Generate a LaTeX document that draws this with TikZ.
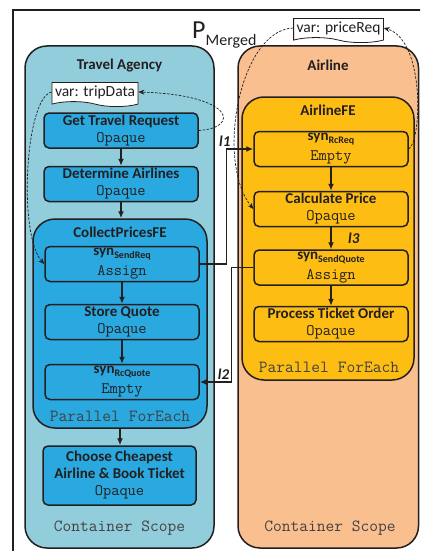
\documentclass[tikz,border=0pt]{standalone}
\usepackage{fontspec}
\setmainfont{Carlito}
\usetikzlibrary{arrows.meta,shapes.symbols}

\definecolor{agencyblue}{HTML}{92CDDC}
\definecolor{taskblue}{HTML}{29A9E0}
\definecolor{airlinepeach}{HTML}{F9BF8F}
\definecolor{taskgold}{HTML}{FDBD13}
\definecolor{inkdark}{HTML}{231F20}

\newcommand{\tasktype}[1]{{\ttfamily\fontsize{16}{17}\selectfont #1}}
\newcommand{\tasklabel}[2]{\textbf{#1}\\\tasktype{#2}}
\newcommand{\synlabel}[2]{\textbf{syn\raisebox{-3pt}{\fontsize{10}{10}\selectfont #1}}\\[3pt]\tasktype{#2}}

\tikzset{
  framebox/.style={draw=inkdark, line width=1.4pt},
  scopebox/.style={draw=inkdark, line width=1.5pt, rounded corners=22pt, inner sep=0pt},
  taskbox/.style={draw=inkdark, line width=1.5pt, rounded corners=5pt, fill=#1,
    minimum width=154pt, minimum height=35pt, inner sep=0pt, align=center,
    text=inkdark, font=\fontsize{15}{17}\selectfont},
  scopetitle/.style={text=inkdark, font=\fontsize{15}{17}\selectfont\bfseries},
  scopefoot/.style={text=inkdark!85, font=\ttfamily\fontsize{17}{17}\selectfont},
  varbox/.style={draw=inkdark, fill=white, line width=0.8pt, shape=tape,
    tape bend top=none, tape bend bottom=out and in, tape bend height=5pt,
    inner sep=3pt, text=inkdark, font=\fontsize{15.5}{17}\selectfont},
  flow/.style={draw=inkdark, line width=1.3pt, -{Latex[length=7pt,width=6pt]}},
  dataflow/.style={draw=inkdark, line width=0.7pt, dash pattern=on 2.5pt off 1.5pt,
    -{Stealth[length=6pt,width=5pt]}},
  linklabel/.style={text=inkdark, inner sep=1.5pt, font=\fontsize{15}{17}\selectfont\bfseries\itshape}
}

\begin{document}
\begin{tikzpicture}[x=1pt, y=-1pt]
\useasboundingbox (0,0) rectangle (420,551);
\clip (0,0) rectangle (420,551);

% Merged process frame
\draw[framebox] (13,10) rectangle (440,570);
\node[anchor=base west, inner sep=0pt, text=inkdark, font=\fontsize{26}{26}\selectfont] (PMerged) at (192,38)
  {P\raisebox{-7pt}{\fontsize{16}{16}\selectfont Merged}};

% Travel Agency container
\node[scopebox, fill=agencyblue, minimum width=189pt, minimum height=502pt] (TravelAgency) at (119.5,297) {};
\node[scopetitle] (TravelAgencyTitle) at (119.5,66) {Travel Agency};
\node[scopefoot] (TravelAgencyFoot) at (119.5,528) {Container Scope};

\node[varbox] (TripData) at (95,92) {var: tripData};

\node[taskbox=taskblue] (GetRequest) at (121,130.5) {\tasklabel{Get Travel Request}{Opaque}};
\node[taskbox=taskblue] (DetermineAirlines) at (121,184) {\tasklabel{Determine Airlines}{Opaque}};

% CollectPricesFE loop
\node[scopebox, fill=taskblue, minimum width=174pt, minimum height=209pt] (CollectPricesFE) at (120,323.5) {};
\node[scopetitle] (CollectPricesTitle) at (120,232) {CollectPricesFE};
\node[scopefoot] (CollectPricesFoot) at (120,416) {Parallel ForEach};

\node[taskbox=taskblue] (SendReq) at (122,264) {\synlabel{SendReq}{Assign}};
\node[taskbox=taskblue] (StoreQuote) at (122,322) {\tasklabel{Store Quote}{Opaque}};
\node[taskbox=taskblue] (RcQuote) at (122,382) {\synlabel{RcQuote}{Empty}};

\node[taskbox=taskblue, minimum width=153pt, minimum height=59pt] (ChooseAirline) at (119.5,475.5)
  {\textbf{Choose Cheapest}\\\textbf{Airline \& Book Ticket}\\\tasktype{Opaque}};

% Airline container
\node[scopebox, fill=airlinepeach, minimum width=180.5pt, minimum height=502pt] (Airline) at (328.25,297) {};
\node[scopetitle] (AirlineTitle) at (328,65) {Airline};
\node[scopefoot] (AirlineFoot) at (330,528) {Container Scope};

\node[varbox] (PriceReq) at (338.5,28) {var: priceReq};

% AirlineFE loop
\node[scopebox, fill=taskgold, minimum width=172pt, minimum height=283pt] (AirlineFE) at (328,238.5) {};
\node[scopetitle] (AirlineFETitle) at (328,110) {AirlineFE};
\node[scopefoot] (AirlineFEFoot) at (329,367) {Parallel ForEach};

\node[taskbox=taskgold] (RcReq) at (331,149) {\synlabel{RcReq}{Empty}};
\node[taskbox=taskgold] (CalcPrice) at (331,209) {\tasklabel{Calculate Price}{Opaque}};
\node[taskbox=taskgold] (SendQuote) at (331,267.5) {\synlabel{SendQuote}{Assign}};
\node[taskbox=taskgold] (ProcessOrder) at (331,324) {\tasklabel{Process Ticket Order}{Opaque}};

% Control flow
\draw[flow] (GetRequest) -- (DetermineAirlines);
\draw[flow] (DetermineAirlines.south) -- (DetermineAirlines.south |- CollectPricesFE.north);
\draw[flow] (SendReq) -- (StoreQuote);
\draw[flow] (StoreQuote) -- (RcQuote);
\draw[flow] (CollectPricesFE.south) -- (CollectPricesFE.south |- ChooseAirline.north);
\draw[flow] (RcReq) -- (CalcPrice);
\draw[flow] (CalcPrice) -- (SendQuote) node[midway, right=15pt, linklabel] (L3) {l3};
\draw[flow] (SendQuote) -- (ProcessOrder);

% Message links
\draw[flow] (SendReq.east) -- ++(27,0) |- (RcReq.west)
  node[pos=0.5, anchor=south, xshift=-2pt, linklabel] (L1) {l1};
\draw[flow] (SendQuote.west) -- ++(-22,0) |- (RcQuote.east)
  node[pos=0.5, anchor=south east, linklabel] (L2) {l2};

% Data flow
\draw[dataflow] (GetRequest.east) .. controls (240,128) and (235,95) .. (TripData.east);
\draw[dataflow] (TripData.west) .. controls (25,98) and (18,235) .. (SendReq.west);
\draw[dataflow] (PriceReq.west) .. controls (240,30) and (215,160) .. (CalcPrice.west);
\draw[dataflow] (RcReq.east) .. controls (422,140) and (425,40) .. (PriceReq.east);

\end{tikzpicture}
\end{document}
